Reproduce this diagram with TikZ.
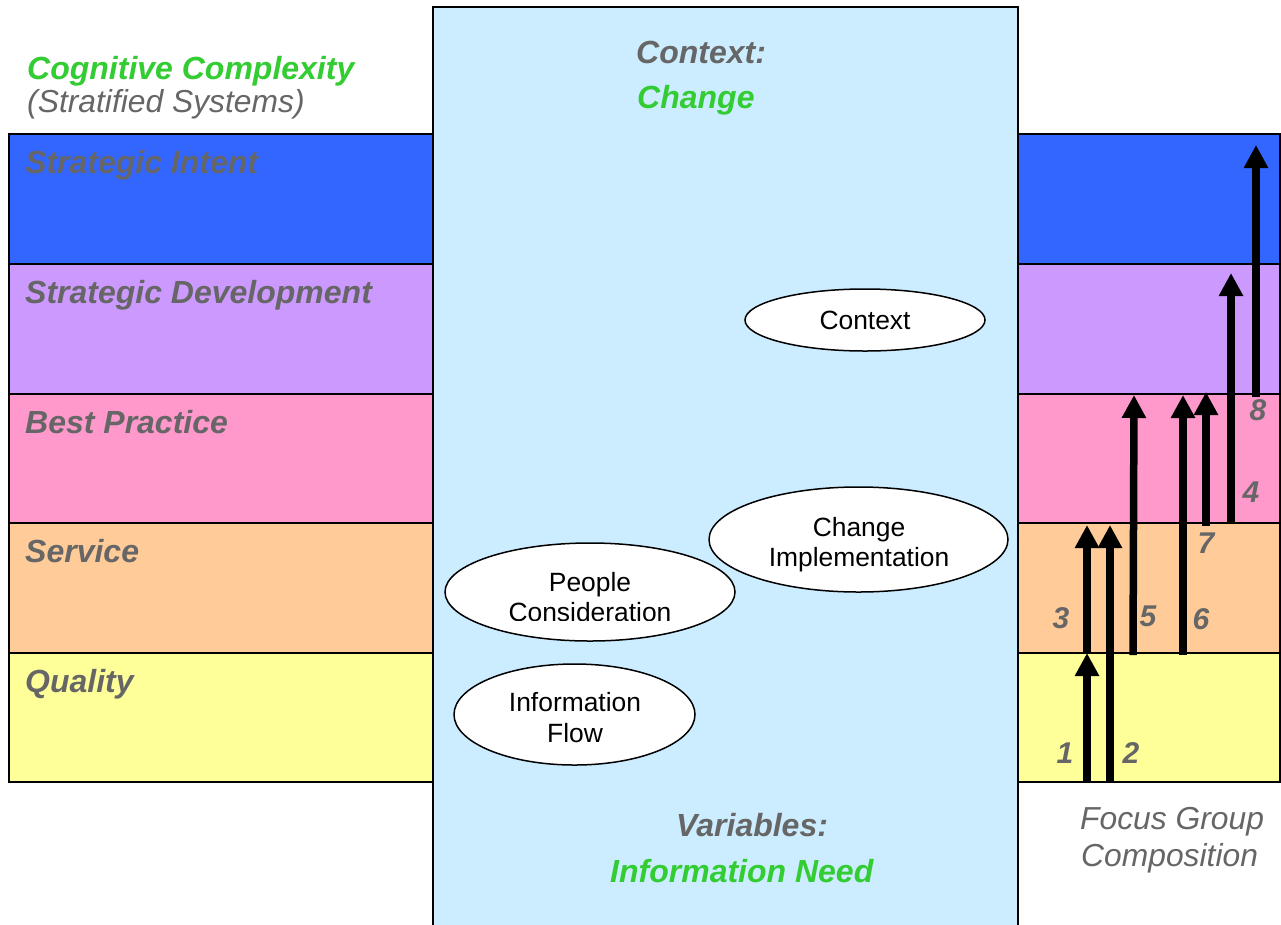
\documentclass[tikz,border=0pt]{standalone}
\usepackage{fontspec}
\setmainfont{Liberation Sans}
\usetikzlibrary{shapes.geometric,arrows.meta}
\definecolor{cIntent}{HTML}{3366FF}
\definecolor{cDevel}{HTML}{CC99FF}
\definecolor{cBest}{HTML}{FF99CC}
\definecolor{cService}{HTML}{FFCC99}
\definecolor{cQuality}{HTML}{FFFF99}
\definecolor{cPanel}{HTML}{CCECFF}
\definecolor{txtgrey}{HTML}{666666}
\definecolor{txtgreen}{HTML}{33CC33}
\begin{document}
\begin{tikzpicture}[x=1pt,y=-1pt,
  band/.style={draw=black, line width=1.5pt},
  panel/.style={draw=black, line width=2pt, fill=cPanel},
  heading/.style={font=\fontsize{32}{36}\selectfont\bfseries\itshape, text=txtgrey, anchor=base west, inner sep=0pt},
  greenhead/.style={heading, text=txtgreen},
  plainital/.style={font=\fontsize{31.8}{36}\selectfont\itshape, text=txtgrey, anchor=base west, inner sep=0pt},
  bubble/.style={ellipse, draw=black, line width=1.5pt, fill=white, inner sep=0pt},
  bubbletext/.style={font=\fontsize{26.4}{30}\selectfont, anchor=base, inner sep=0pt},
  numlabel/.style={font=\fontsize{30}{34}\selectfont\bfseries\itshape, text=txtgrey, inner sep=0pt},
  bigarrow/.style={line width=7.5pt, -{Triangle[width=23pt,length=23pt]}}
]
\useasboundingbox (0,0) rectangle (1281,924);
\clip (0,0) rectangle (1281,924);

% bands
\fill[white] (0,0) rectangle (1281,924);
\draw[band, fill=cIntent]  (9,134) rectangle (1280,264);
\draw[band, fill=cDevel]   (9,264) rectangle (1280,394);
\draw[band, fill=cBest]    (9,394) rectangle (1280,523);
\draw[band, fill=cService] (9,523) rectangle (1280,653);
\draw[band, fill=cQuality] (9,653) rectangle (1280,782);

% central panel
\draw[panel] (433,7) rectangle (1018,940);

% left texts
\node[greenhead] (cogcomp) at (27,79) {Cognitive Complexity};
\node[plainital] (strat) at (27,112) {(Stratified Systems)};
\node[heading] (lintent) at (25,173) {Strategic Intent};
\node[heading] (ldevel) at (25,303) {Strategic Development};
\node[heading] (lbest) at (25,433) {Best Practice};
\node[heading] (lservice) at (25,562) {Service};
\node[heading] (lquality) at (25,692) {Quality};

% panel texts
\node[heading] (ctxhead) at (636,63.5) {Context:};
\node[greenhead] (chghead) at (637,108) {Change};
\node[heading] (varhead) at (676,836) {Variables:};
\node[greenhead] (infneed) at (610,882) {Information Need};

% bubbles
\node[bubble, minimum width=240pt, minimum height=62pt] (ctx) at (865,320) {};
\node[bubbletext] (ctxt) at (865,329) {Context};
\node[bubble, minimum width=299pt, minimum height=105pt] (chg) at (858.5,539.5) {};
\node[bubbletext] (chgt1) at (859,536) {Change};
\node[bubbletext] (chgt2) at (859,566) {Implementation};
\node[bubble, minimum width=290pt, minimum height=98pt] (ppl) at (590,592) {};
\node[bubbletext] (pplt1) at (590,591) {People};
\begin{scope}
  \clip (440,596) rectangle (740,620);
  \node[bubbletext] (pplt2) at (590,621) {Consideration};
\end{scope}
\node[bubble, minimum width=241pt, minimum height=101pt] (inf) at (574.5,714.5) {};
\node[bubbletext] (inft1) at (575,711) {Information};
\node[bubbletext] (inft2) at (575,742) {Flow};

% focus group arrows
\coordinate (a1s) at (1087,783); \coordinate (a1e) at (1087,653);
\coordinate (a3s) at (1087,653); \coordinate (a3e) at (1087,525);
\coordinate (a2s) at (1110,783); \coordinate (a2e) at (1110,525);
\coordinate (a5s) at (1133,655); \coordinate (a5e) at (1134,395);
\coordinate (a6s) at (1183,655); \coordinate (a6e) at (1183,395);
\coordinate (a7s) at (1206,526); \coordinate (a7e) at (1206,392);
\coordinate (a4s) at (1231,524); \coordinate (a4e) at (1231,273);
\coordinate (a8s) at (1256,397); \coordinate (a8e) at (1256,145);
\draw[bigarrow] (a1s) -- (a1e);
\draw[bigarrow] (a3s) -- (a3e);
\draw[bigarrow] (a2s) -- (a2e);
\draw[bigarrow] (a5s) -- (a5e);
\draw[bigarrow] (a6s) -- (a6e);
\draw[bigarrow] (a7s) -- (a7e);
\draw[bigarrow] (a4s) -- (a4e);
\draw[bigarrow] (a8s) -- (a8e);

% numbers
\node[numlabel] (n1) at (1065,753) {1};
\node[numlabel] (n2) at (1131,753) {2};
\node[numlabel] (n3) at (1061,618) {3};
\node[numlabel] (n5) at (1148,616) {5};
\node[numlabel] (n6) at (1201,619) {6};
\node[numlabel] (n7) at (1206,543) {7};
\node[numlabel] (n4) at (1251,492) {4};
\node[numlabel] (n8) at (1258,410) {8};

% focus group caption
\node[plainital] (fg1) at (1080,829) {Focus Group};
\node[plainital] (fg2) at (1081,866) {Composition};
\end{tikzpicture}
\end{document}
